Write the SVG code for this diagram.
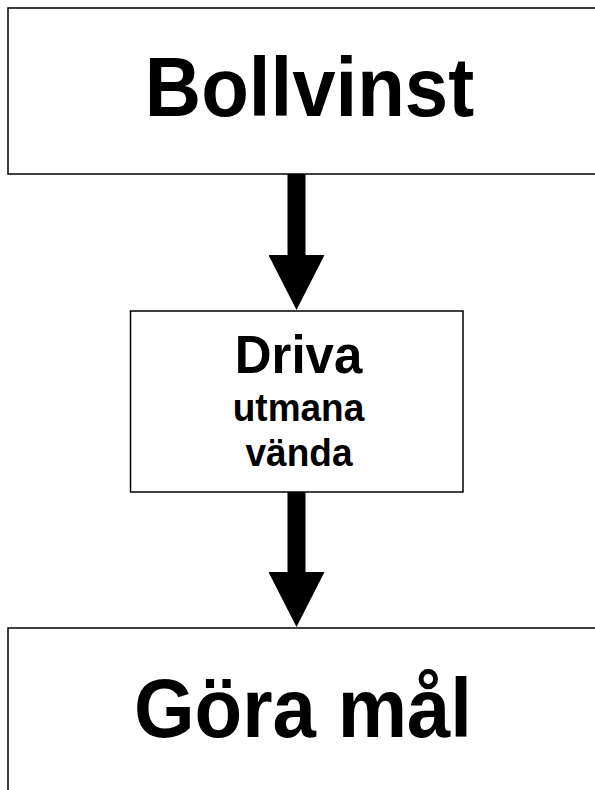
<svg xmlns="http://www.w3.org/2000/svg" width="595" height="790" viewBox="0 0 595 790">
  <defs>
    <style>
      .box { fill: #ffffff; stroke: #000000; stroke-width: 1.5; }
      .lbl { font-family: "Liberation Sans", Arial, Helvetica, sans-serif; font-weight: bold; fill: #000000; text-anchor: middle; }
      .big { font-size: 78px; }
      .mid { font-size: 51px; }
      .small { font-size: 37px; }
      .conn { stroke: #000000; stroke-width: 18; fill: none; marker-end: url(#head); }
    </style>
    <marker id="head" markerUnits="userSpaceOnUse" markerWidth="56" markerHeight="56" viewBox="0 0 56 56" refX="0" refY="28" orient="auto">
      <path d="M0,0 L55,28 L0,56 Z" fill="#000000"/>
    </marker>
  </defs>
  <rect x="0" y="0" width="595" height="790" fill="#ffffff"/>

  <g id="connectors">
    <line class="conn" x1="296.5" y1="174" x2="296.5" y2="255"/>
    <line class="conn" x1="296.5" y1="492" x2="296.5" y2="572"/>
  </g>

  <g id="node-bollvinst">
    <rect class="box" x="8" y="8" width="604" height="166"/>
    <text class="lbl big" transform="translate(309.5,116) scale(1,1.07)">Bollvinst</text>
  </g>

  <g id="node-driva">
    <rect class="box" x="130.5" y="311" width="332.5" height="181"/>
    <text class="lbl mid" transform="translate(298.5,373) scale(1,1.04)">Driva</text>
    <text class="lbl small" transform="translate(298.5,420.5) scale(1,1.04)">utmana</text>
    <text class="lbl small" transform="translate(299,465.5) scale(1,1.04)">vända</text>
  </g>

  <g id="node-gora-mal">
    <rect class="box" x="8" y="628" width="592" height="200"/>
    <text class="lbl big" transform="translate(303,737) scale(1,1.07)">Göra mål</text>
  </g>
</svg>
